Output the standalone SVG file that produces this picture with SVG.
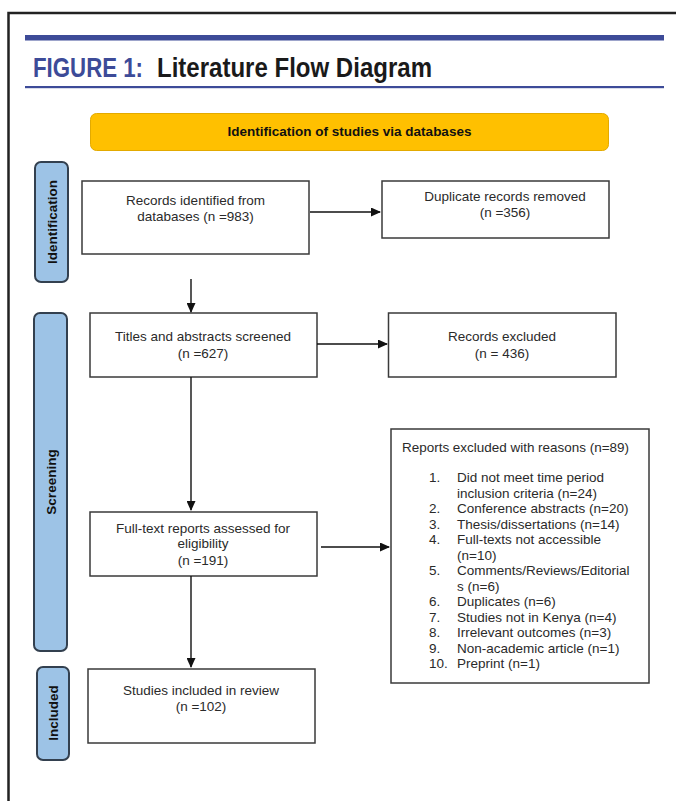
<svg xmlns="http://www.w3.org/2000/svg" width="676" height="801" viewBox="0 0 676 801">
<style>
.box{fill:#fff;stroke:#3a3a3a;stroke-width:1.5}
.lbl{fill:#9DC3E6;stroke:#33404f;stroke-width:2}
.t{font-family:"Liberation Sans",Arial,sans-serif;font-size:13.5px;fill:#2a2a2a}
.c{text-anchor:middle}
.b{font-weight:bold;fill:#111}
.ttl{font-family:"Liberation Sans Narrow","Liberation Sans",Arial,sans-serif;font-size:27px;font-weight:bold}
.conn{stroke:#111;stroke-width:1.4;fill:none}
</style>
<defs>
<marker id="ah" markerUnits="userSpaceOnUse" markerWidth="10" markerHeight="9" refX="9" refY="4.5" orient="auto">
<path d="M0,0 L10,4.5 L0,9 z" fill="#111"/>
</marker>
</defs>
<rect width="676" height="801" fill="#fff"/>
<g id="frame">
<path d="M8.5,801 V13 H676" fill="none" stroke="#222" stroke-width="2.5"/>
<rect x="25" y="35" width="639" height="5.5" fill="#3d4b98"/>
<rect x="25" y="86" width="639" height="2.2" fill="#3d4b98"/>
<text class="ttl" x="33" y="77" fill="#3d4b98" textLength="110" lengthAdjust="spacingAndGlyphs">FIGURE 1:</text>
<text class="ttl" x="157" y="77" fill="#1a1a1a" textLength="275" lengthAdjust="spacingAndGlyphs">Literature Flow Diagram</text>
</g>
<g id="banner">
<rect x="90.5" y="113.5" width="518" height="37" rx="6" fill="#FFC000" stroke="#E3AA00" stroke-width="1"/>
<text class="t b c" x="349.5" y="135.5">Identification of studies via databases</text>
</g>
<g id="lbl-identification">
<rect class="lbl" x="35" y="162" width="33" height="120" rx="6"/>
<text class="t b c" transform="translate(56.5,222) rotate(-90)">Identification</text>
</g>
<g id="lbl-screening">
<rect class="lbl" x="34" y="313" width="33" height="338" rx="6"/>
<text class="t b c" transform="translate(55.5,482) rotate(-90)">Screening</text>
</g>
<g id="lbl-included">
<rect class="lbl" x="37" y="667" width="32" height="93" rx="6"/>
<text class="t b c" transform="translate(58,713) rotate(-90)">Included</text>
</g>
<g id="records-identified">
<rect class="box" x="82" y="181" width="227" height="73"/>
<text class="t c" x="195.5" y="205">Records identified from</text>
<text class="t c" x="195.5" y="221">databases (n =983)</text>
</g>
<g id="duplicates">
<rect class="box" x="382" y="181" width="227" height="57"/>
<text class="t c" x="505" y="200.5">Duplicate records removed</text>
<text class="t c" x="505" y="217">(n =356)</text>
</g>
<g id="titles-screened">
<rect class="box" x="90" y="313" width="227" height="64"/>
<text class="t c" x="203" y="341">Titles and abstracts screened</text>
<text class="t c" x="203" y="358">(n =627)</text>
</g>
<g id="records-excluded">
<rect class="box" x="388.5" y="313" width="227.5" height="64"/>
<text class="t c" x="502" y="341">Records excluded</text>
<text class="t c" x="502" y="358">(n = 436)</text>
</g>
<g id="full-text">
<rect class="box" x="90" y="512" width="227" height="64"/>
<text class="t c" x="203" y="532.5">Full-text reports assessed for</text>
<text class="t c" x="203" y="548">eligibility</text>
<text class="t c" x="203" y="564.5">(n =191)</text>
</g>
<g id="reports-excluded">
<rect class="box" x="391" y="429" width="258" height="254"/>
<text class="t" x="402" y="452" textLength="227" lengthAdjust="spacingAndGlyphs">Reports excluded with reasons (n=89)</text>
<g class="t">
<text x="429" y="482">1.</text><text x="457" y="482">Did not meet time period</text>
<text x="457" y="497.5">inclusion criteria (n=24)</text>
<text x="429" y="513">2.</text><text x="457" y="513">Conference abstracts (n=20)</text>
<text x="429" y="528.5">3.</text><text x="457" y="528.5">Thesis/dissertations (n=14)</text>
<text x="429" y="544">4.</text><text x="457" y="544">Full-texts not accessible</text>
<text x="457" y="559.5">(n=10)</text>
<text x="429" y="575">5.</text><text x="457" y="575">Comments/Reviews/Editorial</text>
<text x="457" y="590.5">s (n=6)</text>
<text x="429" y="606">6.</text><text x="457" y="606">Duplicates (n=6)</text>
<text x="429" y="621.5">7.</text><text x="457" y="621.5">Studies not in Kenya (n=4)</text>
<text x="429" y="637">8.</text><text x="457" y="637">Irrelevant outcomes (n=3)</text>
<text x="429" y="652.5">9.</text><text x="457" y="652.5">Non-academic article (n=1)</text>
<text x="429" y="668">10.</text><text x="457" y="668">Preprint (n=1)</text>
</g>
</g>
<g id="included">
<rect class="box" x="88" y="669" width="227" height="74"/>
<text class="t c" x="201" y="695">Studies included in review</text>
<text class="t c" x="201" y="711">(n =102)</text>
</g>
<g id="connectors">
<line class="conn" x1="310" y1="212" x2="380" y2="212" marker-end="url(#ah)"/>
<line class="conn" x1="191" y1="279" x2="191" y2="312" marker-end="url(#ah)"/>
<line class="conn" x1="317" y1="344" x2="387" y2="344" marker-end="url(#ah)"/>
<line class="conn" x1="191" y1="377" x2="191" y2="510" marker-end="url(#ah)"/>
<line class="conn" x1="321" y1="547" x2="389" y2="547" marker-end="url(#ah)"/>
<line class="conn" x1="191" y1="576" x2="191" y2="667" marker-end="url(#ah)"/>
</g>
</svg>
